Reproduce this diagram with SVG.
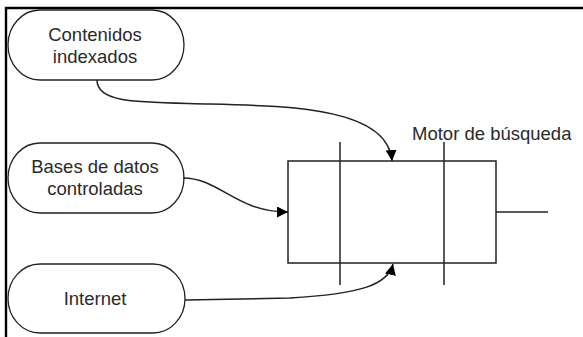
<svg xmlns="http://www.w3.org/2000/svg" width="583" height="337" viewBox="0 0 583 337">
<defs>
<style>
.node{fill:#fff;stroke:#222;stroke-width:1.3}
.lbl{font-family:"Liberation Sans",Arial,sans-serif;font-size:18.5px;fill:#2a2a2a;text-anchor:middle}
.conn{fill:none;stroke:#222;stroke-width:1.5}
.frame{stroke:#000;stroke-width:2.4;fill:none}
</style>
<marker id="arr" markerWidth="12" markerHeight="11" refX="11" refY="5.5" orient="auto" markerUnits="userSpaceOnUse">
<path d="M0,0 L11,5.5 L0,11 Z" fill="#000"/>
</marker>
</defs>
<rect width="583" height="337" fill="#fff"/>
<path class="frame" d="M6,337 V8 H583"/>
<g id="contenidos">
<rect class="node" x="8" y="10" width="176" height="70" rx="32" ry="35"/>
<text class="lbl" x="95" y="41">Contenidos</text>
<text class="lbl" x="95" y="63">indexados</text>
</g>
<g id="bases">
<rect class="node" x="8" y="143" width="176" height="70" rx="32" ry="35"/>
<text class="lbl" x="95" y="173">Bases de datos</text>
<text class="lbl" x="95" y="195">controladas</text>
</g>
<g id="internet">
<rect class="node" x="8" y="264" width="177" height="69" rx="32" ry="34.5"/>
<text class="lbl" x="95" y="305">Internet</text>
</g>
<g id="motor">
<rect x="288" y="161" width="208" height="102" fill="none" stroke="#222" stroke-width="1.5"/>
<line x1="340" y1="142" x2="340" y2="285" stroke="#222" stroke-width="1.5"/>
<line x1="444" y1="142" x2="444" y2="285" stroke="#222" stroke-width="1.5"/>
<line x1="496" y1="212" x2="548" y2="212" stroke="#222" stroke-width="1.5"/>
<text font-family="'Liberation Sans',Arial,sans-serif" font-size="18.5" fill="#2a2a2a" x="412" y="140">Motor de búsqueda</text>
</g>
<g id="connectors">
<path class="conn" marker-end="url(#arr)" d="M97,80 C97,104 140,102 210,104 C300,106 388,110 392,161"/>
<path class="conn" marker-end="url(#arr)" d="M183,178 C220,178 235,212 288,212"/>
<path class="conn" marker-end="url(#arr)" d="M185,300 L290,298 C360,294 388,285 393,264"/>
</g>
</svg>
